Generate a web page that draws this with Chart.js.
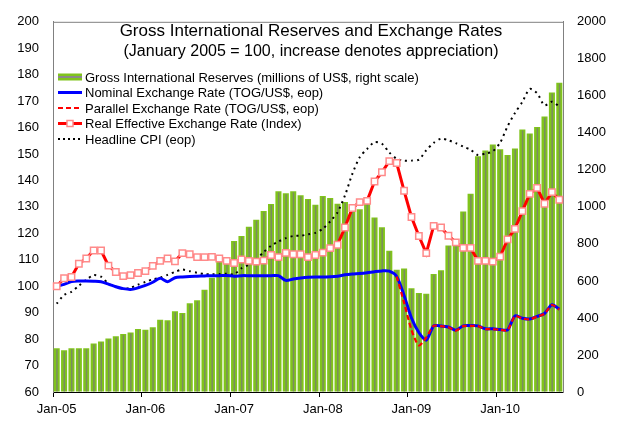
<!DOCTYPE html>
<html>
<head>
<meta charset="utf-8">
<title>Gross International Reserves and Exchange Rates</title>
<script src="https://cdn.jsdelivr.net/npm/chart.js@4.4.1/dist/chart.umd.min.js"></script>
<style>
  html, body { margin: 0; padding: 0; background: #fff; }
</style>
</head>
<body>
<canvas id="c" width="622" height="421"></canvas>
<script>
const FONT = "'Liberation Sans', Arial, sans-serif";

// Jan-05 .. Sep-10, monthly
const MONTH_NAMES = ['Jan','Feb','Mar','Apr','May','Jun','Jul','Aug','Sep','Oct','Nov','Dec'];
const YEARS = [2005, 2006, 2007, 2008, 2009, 2010];
const LAST_MONTH_2010 = 9;
const months = [];
YEARS.forEach(y => MONTH_NAMES.forEach((m, i) => {
  if (y < 2010 || i < LAST_MONTH_2010) months.push(m + '-' + String(y).slice(2));
}));

// Gross international reserves, millions of US$ (right scale)
const reserves = [
  236, 225, 237, 237, 237, 262, 273, 289, 301, 313, 322, 341,
  336, 350, 390, 387, 436, 427, 480, 496, 552, 617, 732, 728,
  816, 843, 893, 931, 978, 1016, 1084, 1074, 1084, 1063, 1043, 1012,
  1059, 1048, 1017, 1027, 996, 987, 1022, 943, 890, 763, 661, 667,
  561, 535, 531, 638, 658, 792, 806, 975, 1071, 1274, 1305, 1337,
  1312, 1281, 1316, 1418, 1397, 1432, 1488, 1618, 1671
];

// Indices, January 2005 = 100 (left scale)
const nominal = [
  100.0, 100.7, 101.8, 102.0, 102.0, 101.9, 101.7, 100.8, 99.8, 99.1, 98.8, 99.4,
  100.3, 101.5, 103.0, 101.7, 103.2, 103.5, 103.7, 103.8, 103.9, 104.0, 104.0, 104.1,
  103.8, 104.0, 104.0, 104.0, 104.0, 104.0, 104.0, 102.2, 102.7, 103.1, 103.4, 103.5,
  103.5, 103.6, 103.8, 104.3, 104.6, 104.8, 105.1, 105.5, 105.8, 105.7, 103.7, 96.5,
  88.0, 82.5, 79.6, 85.0, 85.0, 84.6, 83.4, 85.0, 85.1, 85.0, 83.9, 83.9,
  83.6, 83.5, 88.8, 87.9, 87.6, 88.6, 89.7, 93.0, 91.3
];

const parallel = [
  null, null, null, null, null, null, null, null, null, null, null, null,
  null, null, null, null, null, null, null, null, null, null, null, null,
  null, null, null, null, null, null, null, null, null, null, null, null,
  null, null, null, null, null, null, null, null, null, null, 103.7, 93.8,
  83.5, 77.6, 80.6, 85.0, 84.9, 84.5, 83.2, 84.9, 85.0, 84.9, 83.8, 83.8,
  83.5, 83.4, 88.7, 87.8, 87.5, 88.5, 89.6, 92.9, 91.2
];

const reer = [
  100.0, 103.0, 103.5, 108.5, 110.5, 113.5, 113.5, 107.8, 105.4, 103.8, 104.2, 105.0,
  105.7, 107.7, 109.6, 110.5, 109.4, 112.5, 112.1, 111.0, 111.0, 111.1, 110.5, 109.6,
  108.8, 110.1, 109.6, 109.3, 109.7, 111.8, 111.0, 112.6, 112.1, 112.1, 111.0, 111.8,
  112.7, 114.4, 115.7, 122.2, 129.6, 131.8, 132.3, 139.6, 143.1, 147.3, 146.6, 136.1,
  126.2, 119.0, 112.5, 122.8, 122.2, 119.1, 116.6, 114.5, 114.5, 109.6, 109.6, 109.3,
  111.2, 117.7, 121.7, 128.4, 134.9, 137.2, 131.2, 135.6, 132.7
];

const cpi = [
  93.4, 96.7, 97.9, 100.2, 102.4, 104.2, 103.6, 101.0, 99.8, 99.0, 99.4, 100.6,
  101.6, 102.6, 103.2, 104.3, 105.4, 106.3, 105.7, 105.1, 104.6, 104.5, 104.6, 104.7,
  104.5, 106.8, 108.2, 110.2, 112.9, 115.3, 116.9, 118.2, 119.0, 119.1, 119.6, 120.2,
  121.7, 124.5, 128.0, 134.3, 142.5, 148.8, 151.9, 154.5, 153.9, 150.6, 148.2, 147.5,
  147.5, 147.9, 151.4, 154.2, 155.8, 155.2, 154.1, 152.8, 151.6, 149.6, 150.2, 151.0,
  154.3, 160.5, 165.5, 169.7, 174.6, 173.0, 168.4, 169.8, 168.0
];

const LEFT_AXIS = { min: 60, max: 200, step: 10 };
const RIGHT_AXIS = { min: 0, max: 2000, step: 200 };

const TITLE = 'Gross International Reserves and Exchange Rates';
const SUBTITLE = '(January 2005 = 100, increase denotes appreciation)';
const LEGEND = [
  'Gross International Reserves (millions of US$, right scale)',
  'Nominal Exchange Rate (TOG/US$, eop)',
  'Parallel Exchange Rate (TOG/US$, eop)',
  'Real Effective Exchange Rate (Index)',
  'Headline CPI (eop)'
];

const GREEN = '#80C41C', STRIPE = 'rgba(120,120,120,0.75)';
const BLUE = '#0000FF', RED = '#FF0000', PINK = '#FF8A8A';

// gray stripe down the middle of each reserves bar
const barStripe = {
  id: 'barStripe',
  afterDatasetDraw(chart, args) {
    if (args.meta.type !== 'bar') return;
    const ctx = chart.ctx;
    ctx.save();
    ctx.fillStyle = STRIPE;
    args.meta.data.forEach(b => ctx.fillRect(b.x - 0.5, b.y + 1, 1.5, b.base - b.y - 1));
    ctx.restore();
  }
};

// frame top edge, title and in-plot legend
const overlay = {
  id: 'overlay',
  afterDraw(chart) {
    const { ctx, chartArea: a } = chart;
    ctx.save();
    ctx.strokeStyle = '#808080'; ctx.lineWidth = 1;
    ctx.beginPath(); ctx.moveTo(a.left, a.top + 0.5); ctx.lineTo(a.right, a.top + 0.5); ctx.stroke();

    ctx.fillStyle = '#000';
    ctx.textAlign = 'center'; ctx.textBaseline = 'alphabetic';
    const cx = (a.left + a.right) / 2 + 3;
    ctx.font = '17px ' + FONT; ctx.fillText(TITLE, cx, 36);
    ctx.font = '16px ' + FONT; ctx.fillText(SUBTITLE, cx, 56);

    const x0 = 58, x1 = 82, rows = [77, 92.5, 108, 123.5, 139];
    const line = (y, color, w, dash) => {
      ctx.strokeStyle = color; ctx.lineWidth = w; ctx.setLineDash(dash || []);
      ctx.beginPath(); ctx.moveTo(x0, y); ctx.lineTo(x1, y); ctx.stroke();
      ctx.setLineDash([]);
    };
    ctx.fillStyle = GREEN; ctx.fillRect(x0, rows[0] - 3.5, x1 - x0, 7);
    ctx.fillStyle = '#8a8a8a'; ctx.fillRect(x0, rows[0] - 1, x1 - x0, 2);
    line(rows[1], BLUE, 3);
    line(rows[2], RED, 2, [5, 3]);
    line(rows[3], RED, 3);
    ctx.fillStyle = '#fff'; ctx.strokeStyle = PINK; ctx.lineWidth = 1.5;
    ctx.fillRect(67, rows[3] - 3, 6, 6); ctx.strokeRect(67, rows[3] - 3, 6, 6);
    line(rows[4], '#000', 2, [2, 3]);

    ctx.fillStyle = '#000'; ctx.textAlign = 'left';
    ctx.font = '13px ' + FONT;
    LEGEND.forEach((t, i) => ctx.fillText(t, 85, rows[i] + 4.5));
    ctx.restore();
  }
};

new Chart(document.getElementById('c'), {
  data: {
    labels: months,
    datasets: [
      { type: 'line', label: LEGEND[3], data: reer, yAxisID: 'y', order: 0,
        borderColor: RED, borderWidth: 3, tension: 0,
        pointStyle: 'rect', pointRadius: 4.5, pointBackgroundColor: '#fff',
        pointBorderColor: PINK, pointBorderWidth: 1.5 },
      { type: 'line', label: LEGEND[2], data: parallel, yAxisID: 'y', order: 1,
        borderColor: RED, borderWidth: 2.2, borderDash: [5, 3], tension: 0.25, pointRadius: 0 },
      { type: 'line', label: LEGEND[1], data: nominal, yAxisID: 'y', order: 2,
        borderColor: BLUE, borderWidth: 3, tension: 0.25, pointRadius: 0 },
      { type: 'line', label: LEGEND[4], data: cpi, yAxisID: 'y', order: 3,
        borderColor: '#000', borderWidth: 2, borderDash: [2, 4], tension: 0.25, pointRadius: 0 },
      { type: 'bar', label: LEGEND[0], data: reserves, yAxisID: 'y1', order: 4,
        backgroundColor: GREEN, barPercentage: 0.82, categoryPercentage: 1 }
    ]
  },
  options: {
    responsive: false, animation: false, devicePixelRatio: 1,
    layout: { padding: { top: 13, left: 0, right: 0, bottom: 0 } },
    plugins: { legend: { display: false }, tooltip: { enabled: false } },
    scales: {
      x: {
        offset: true,
        afterFit: s => { s.height = 29; },
        border: { color: '#000', width: 1 },
        grid: { offset: true, drawOnChartArea: false, tickLength: 5,
          color: c => (c.index % 12 === 0 ? '#000' : 'rgba(0,0,0,0)') },
        ticks: { autoSkip: false, maxRotation: 0, padding: 5, color: '#000',
          font: { family: FONT, size: 13 },
          callback: (v, i) => (i % 12 === 0 ? months[i] : '') }
      },
      y: {
        position: 'left', min: LEFT_AXIS.min, max: LEFT_AXIS.max,
        afterFit: s => { s.width = 53; },
        border: { color: '#808080', width: 1 },
        grid: { drawOnChartArea: false, drawTicks: false },
        ticks: { stepSize: LEFT_AXIS.step, padding: 14, color: '#000',
          font: { family: FONT, size: 13 }, callback: v => String(v) }
      },
      y1: {
        position: 'right', min: RIGHT_AXIS.min, max: RIGHT_AXIS.max,
        afterFit: s => { s.width = 59; },
        border: { color: '#808080', width: 1 },
        grid: { drawOnChartArea: false, drawTicks: false },
        ticks: { stepSize: RIGHT_AXIS.step, padding: 14, color: '#000',
          font: { family: FONT, size: 13 }, callback: v => String(v) }
      }
    }
  },
  plugins: [barStripe, overlay]
});
</script>
</body>
</html>
